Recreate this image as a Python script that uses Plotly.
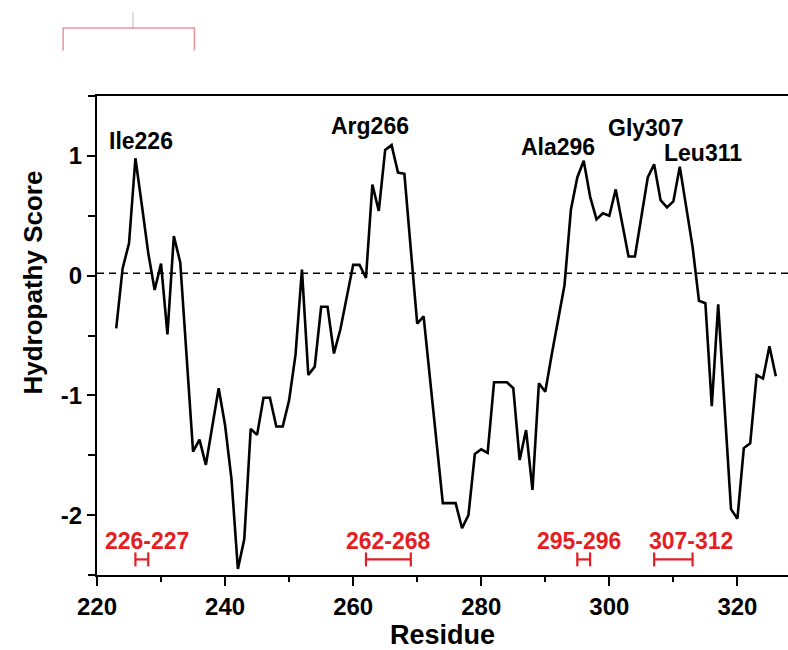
import plotly.graph_objects as go

# Hydropathy profile, one score per residue
residues = list(range(223, 327))
scores = [
    -0.44, 0.06, 0.27, 0.98, 0.59, 0.19, -0.12, 0.10, -0.49, 0.33,   # 223-232
    0.11, -0.66, -1.47, -1.37, -1.58, -1.26, -0.94, -1.25, -1.70, -2.45,  # 233-242
    -2.20, -1.28, -1.33, -1.02, -1.02, -1.26, -1.26, -1.04, -0.66, 0.05,  # 243-252
    -0.83, -0.76, -0.26, -0.26, -0.65, -0.45, -0.18, 0.09, 0.09, -0.02,   # 253-262
    0.76, 0.54, 1.05, 1.09, 0.86, 0.85, 0.22, -0.40, -0.34, -0.87,        # 263-272
    -1.40, -1.90, -1.90, -1.90, -2.11, -2.00, -1.49, -1.45, -1.48, -0.89, # 273-282
    -0.89, -0.89, -0.94, -1.54, -1.29, -1.79, -0.90, -0.97, -0.66, -0.37, # 283-292
    -0.08, 0.55, 0.82, 0.96, 0.66, 0.47, 0.52, 0.50, 0.72, 0.44,          # 293-302
    0.16, 0.16, 0.50, 0.82, 0.93, 0.63, 0.57, 0.62, 0.91, 0.58,           # 303-312
    0.24, -0.21, -0.23, -1.09, -0.24, -1.10, -1.95, -2.03, -1.44, -1.40,  # 313-322
    -0.83, -0.86, -0.59, -0.84,                                           # 323-326
]
threshold = 0.02

# Labelled peaks
peak_names = ["Ile226", "Arg266", "Ala296", "Gly307", "Leu311"]
peak_residues = [226, 266, 296, 307, 311]

# Highlighted residue stretches
range_start = [226, 262, 295, 307]
range_end = [227, 268, 296, 312]

# Axis ticks
x_tickvals = [220, 240, 260, 280, 300, 320]
x_ticktext = ["220", "240", "260", "280", "300", "320"]
y_tickvals = [-2, -1, 0, 1]
y_ticktext = ["-2", "-1", "0", "1"]

FONT = "Liberation Sans, Arial, Helvetica, sans-serif"
RED = "#e41e24"

fig = go.Figure()

fig.add_trace(go.Scatter(
    x=residues, y=scores, mode="lines",
    line=dict(color="black", width=2.6),
    showlegend=False, hoverinfo="x+y",
))

# Bars under the highlighted stretches: each residue covers one unit
for s, e in zip(range_start, range_end):
    fig.add_trace(go.Scatter(
        x=[s, e + 1], y=[-2.37, -2.37], mode="lines+markers",
        line=dict(color=RED, width=2.2),
        marker=dict(symbol="line-ns-open", size=10,
                    line=dict(color=RED, width=2.2)),
        showlegend=False, hoverinfo="skip",
    ))

# Horizontal dashed reference line
fig.add_shape(type="line", xref="paper", yref="y",
              x0=0, x1=1, y0=threshold, y1=threshold,
              line=dict(color="black", width=1.6, dash="7px,5px"))

# Peak labels (pixel offsets from the peak point)
peak_shift = {
    "Ile226": (6, 17),
    "Arg266": (-22, 19),
    "Ala296": (-26, 14),
    "Gly307": (-9, 36),
    "Leu311": (23, 14),
}
for name, res in zip(peak_names, peak_residues):
    val = scores[residues.index(res)]
    dx, dy = peak_shift[name]
    fig.add_annotation(
        x=res, y=val, text=name, showarrow=False,
        xshift=dx, yshift=dy,
        font=dict(family=FONT, size=23, color="black", weight="bold"),
    )

# Range labels above the bars
label_shift = [5, 0, -5, 18]
for s, e, dx in zip(range_start, range_end, label_shift):
    fig.add_annotation(
        x=(s + e + 1) / 2, y=-2.22, text=f"{s}-{e}", showarrow=False,
        xshift=dx,
        font=dict(family=FONT, size=23, color=RED, weight="bold"),
    )

# Y-axis title, placed as a rotated annotation
fig.add_annotation(
    xref="paper", yref="paper", x=-0.093, y=0.61,
    xanchor="center", yanchor="middle",
    text="Hydropathy Score", textangle=-90, showarrow=False,
    font=dict(family=FONT, size=26, color="black", weight="bold"),
)

# Faint boxed header decoration at the top-left
fig.add_shape(type="path", xref="paper", yref="paper",
              path="M -0.049,1.095 L -0.049,1.142 L 0.141,1.142 L 0.141,1.095",
              line=dict(color="rgba(225,110,125,0.75)", width=1.5))
fig.add_shape(type="line", xref="paper", yref="paper",
              x0=0.052, x1=0.052, y0=1.142, y1=1.175,
              line=dict(color="rgba(150,150,150,0.5)", width=1.2))

axis_common = dict(
    showline=True, linecolor="black", linewidth=2,
    ticks="outside", tickwidth=2, tickcolor="black",
    showgrid=False, zeroline=False,
    tickfont=dict(family=FONT, size=24, color="black", weight="bold"),
)

fig.update_xaxes(
    range=[220, 327.9], tickvals=x_tickvals, ticktext=x_ticktext,
    ticklen=9, mirror=True,
    minor=dict(dtick=10, tick0=220, ticklen=5, tickwidth=2,
               tickcolor="black", ticks="outside"),
    title=dict(text="Residue", standoff=4,
               font=dict(family=FONT, size=27, color="black", weight="bold")),
    **axis_common,
)
fig.update_yaxes(
    range=[-2.5, 1.5], tickvals=y_tickvals, ticktext=y_ticktext,
    ticklen=8,
    minor=dict(dtick=0.5, tick0=0, ticklen=7, tickwidth=2,
               tickcolor="black", ticks="outside"),
    **axis_common,
)

fig.update_layout(
    width=788, height=650,
    margin=dict(l=97, r=0, t=96, b=75),
    paper_bgcolor="white", plot_bgcolor="white",
    showlegend=False,
)

fig.write_html("out.html")
